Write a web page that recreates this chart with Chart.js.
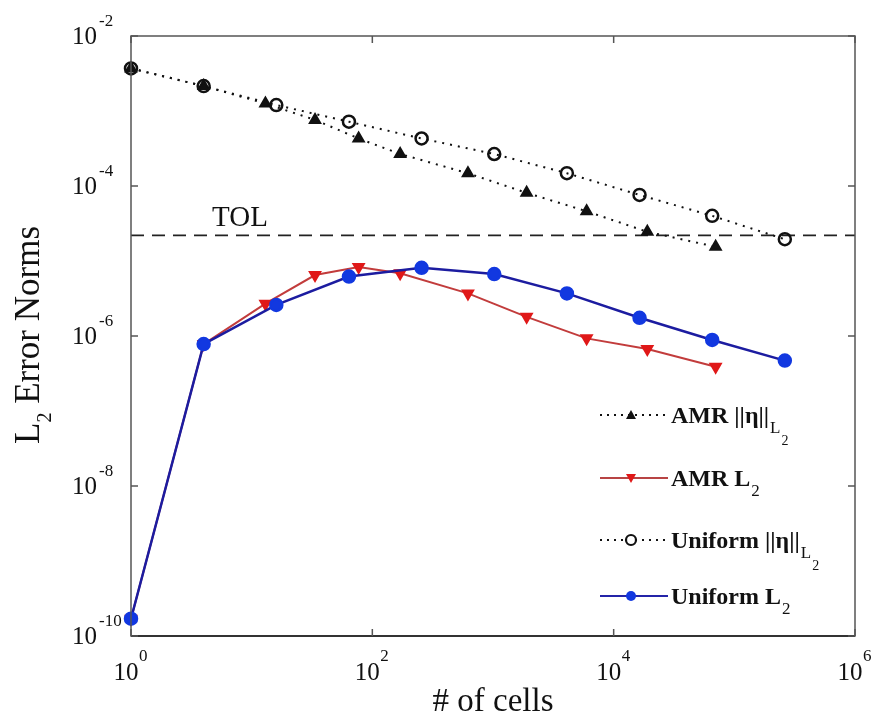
<!DOCTYPE html>
<html>
<head>
<meta charset="utf-8">
<script src="https://cdn.jsdelivr.net/npm/chart.js@4.4.1/dist/chart.umd.min.js"></script>
<style>
  html, body { margin: 0; padding: 0; background: #fff; }
  #wrap { width: 877px; height: 721px; }
</style>
</head>
<body>
<div id="wrap"><canvas id="chart" width="877" height="721"></canvas></div>
<script>
// number of cells per run
const uniformCells = [1, 4, 16, 64, 256, 1024, 4096, 16384, 65536, 262144];
const amrCells = [1, 4, 13, 33.5, 77, 170, 620, 1900, 5970, 19000, 70000];

// error norms
const amrEta = [3.7e-3, 2.15e-3, 1.26e-3, 7.6e-4, 4.3e-4, 2.67e-4, 1.48e-4, 8.1e-5, 4.6e-5, 2.45e-5, 1.55e-5];
const amrL2 = [1.7e-10, 7.8e-7, 2.7e-6, 6.5e-6, 8.3e-6, 6.85e-6, 3.7e-6, 1.8e-6, 9.3e-7, 6.7e-7, 3.9e-7];
const uniformEta = [3.7e-3, 2.15e-3, 1.2e-3, 7.2e-4, 4.3e-4, 2.67e-4, 1.48e-4, 7.6e-5, 4.0e-5, 1.95e-5];
const uniformL2 = [1.7e-10, 7.8e-7, 2.6e-6, 6.2e-6, 8.1e-6, 6.7e-6, 3.7e-6, 1.75e-6, 8.85e-7, 4.7e-7];

const tol = 2.2e-5;

// axis ticks (shown as 10^n)
const xTicks = [1, 1e2, 1e4, 1e6];
const yTicks = [1e-10, 1e-8, 1e-6, 1e-4, 1e-2];

const SERIF = '"Liberation Serif", "DejaVu Serif", serif';
const pts = (xs, ys) => xs.map((x, i) => ({ x, y: ys[i] }));

// box, inward ticks, 10^n labels, axis titles, TOL text
const axesPlugin = {
    id: 'axesPlugin',
    afterDatasetsDraw(chart) {
        const { ctx, chartArea: a, scales: { x, y } } = chart;
        ctx.save();
        ctx.strokeStyle = '#555';
        ctx.lineWidth = 1.5;
        ctx.strokeRect(a.left, a.top, a.right - a.left, a.bottom - a.top);
        // bottom axis is a bit darker in the original
        ctx.beginPath();
        ctx.strokeStyle = '#333';
        ctx.lineWidth = 2;
        ctx.moveTo(a.left, a.bottom); ctx.lineTo(a.right, a.bottom);
        ctx.stroke();

        ctx.strokeStyle = '#555';
        ctx.lineWidth = 1.5;
        ctx.beginPath();
        xTicks.forEach(v => {
            const px = x.getPixelForValue(v);
            ctx.moveTo(px, a.bottom); ctx.lineTo(px, a.bottom - 7);
            ctx.moveTo(px, a.top); ctx.lineTo(px, a.top + 7);
        });
        yTicks.forEach(v => {
            const py = y.getPixelForValue(v);
            ctx.moveTo(a.left, py); ctx.lineTo(a.left + 7, py);
            ctx.moveTo(a.right, py); ctx.lineTo(a.right - 7, py);
        });
        ctx.stroke();

        ctx.fillStyle = '#111';
        ctx.textBaseline = 'middle';
        // y tick labels
        yTicks.forEach(v => {
            const py = y.getPixelForValue(v);
            const e = Math.round(Math.log10(v));
            ctx.font = '25px ' + SERIF;
            ctx.textAlign = 'right';
            ctx.fillText('10', a.left - 34, py + 1);
            ctx.font = '17px ' + SERIF;
            ctx.textAlign = 'left';
            ctx.fillText(String(e), a.left - 32, py - 14);
        });
        // x tick labels
        xTicks.forEach(v => {
            const px = x.getPixelForValue(v);
            const e = Math.round(Math.log10(v));
            ctx.font = '25px ' + SERIF;
            ctx.textAlign = 'center';
            ctx.fillText('10', px - 5, a.bottom + 37);
            ctx.font = '17px ' + SERIF;
            ctx.textAlign = 'left';
            ctx.fillText(String(e), px + 8, a.bottom + 21);
        });

        // x title
        ctx.font = '33px ' + SERIF;
        ctx.textAlign = 'center';
        ctx.textBaseline = 'alphabetic';
        ctx.fillText('# of cells', (a.left + a.right) / 2, 711);

        // y title, rotated
        ctx.save();
        ctx.translate(39, 335);
        ctx.rotate(-Math.PI / 2);
        ctx.font = '35px ' + SERIF;
        const wL = ctx.measureText('L').width;
        const wRest = ctx.measureText(' Error Norms').width;
        ctx.font = '20px ' + SERIF;
        const w2 = ctx.measureText('2').width;
        const sx = -(wL + w2 + wRest) / 2;
        ctx.textAlign = 'left';
        ctx.font = '35px ' + SERIF;
        ctx.fillText('L', sx, 0);
        ctx.font = '20px ' + SERIF;
        ctx.fillText('2', sx + wL, 12);
        ctx.font = '35px ' + SERIF;
        ctx.fillText(' Error Norms', sx + wL + w2, 0);
        ctx.restore();

        // TOL label
        ctx.font = '29px ' + SERIF;
        ctx.textAlign = 'left';
        ctx.fillText('TOL', 212, y.getPixelForValue(tol) - 9);
        ctx.restore();
    }
};

// legend with sub/sub-sub scripts, drawn inside the axes
const legendPlugin = {
    id: 'legendPlugin',
    afterDatasetsDraw(chart) {
        const { ctx, chartArea: a } = chart;
        const x0 = a.right - 255, x1 = a.right - 187, xm = a.right - 224, tx = a.right - 184;
        const rows = [
            { y: a.bottom - 221, dash: [2, 5], line: '#111', marker: 'tri', color: '#111', main: 'AMR ||\u03b7||', sub: 'L', subsub: '2' },
            { y: a.bottom - 158, dash: [], line: '#b84444', marker: 'tridown', color: '#e01818', main: 'AMR L', sub: '2' },
            { y: a.bottom - 96, dash: [2, 5], line: '#111', marker: 'circ', color: '#111', main: 'Uniform ||\u03b7||', sub: 'L', subsub: '2' },
            { y: a.bottom - 40, dash: [], line: '#2424a8', marker: 'dot', color: '#1238e0', main: 'Uniform L', sub: '2' }
        ];
        ctx.save();
        rows.forEach(r => {
            ctx.beginPath();
            ctx.setLineDash(r.dash);
            ctx.strokeStyle = r.line;
            ctx.lineWidth = 2;
            ctx.moveTo(x0, r.y); ctx.lineTo(x1, r.y);
            ctx.stroke();
            ctx.setLineDash([]);
            ctx.fillStyle = r.color;
            ctx.strokeStyle = r.color;
            ctx.beginPath();
            if (r.marker === 'tri') {
                ctx.moveTo(xm, r.y - 5); ctx.lineTo(xm + 5, r.y + 4); ctx.lineTo(xm - 5, r.y + 4); ctx.closePath(); ctx.fill();
            } else if (r.marker === 'tridown') {
                ctx.moveTo(xm, r.y + 5); ctx.lineTo(xm + 5, r.y - 4); ctx.lineTo(xm - 5, r.y - 4); ctx.closePath(); ctx.fill();
            } else if (r.marker === 'circ') {
                ctx.fillStyle = '#fff'; ctx.lineWidth = 2.2;
                ctx.arc(xm, r.y, 5, 0, Math.PI * 2); ctx.fill(); ctx.stroke();
            } else {
                ctx.arc(xm, r.y, 5, 0, Math.PI * 2); ctx.fill();
            }
            ctx.fillStyle = '#111';
            ctx.textBaseline = 'alphabetic';
            ctx.textAlign = 'left';
            ctx.font = 'bold 24px ' + SERIF;
            ctx.fillText(r.main, tx, r.y + 8);
            const w = ctx.measureText(r.main).width;
            ctx.font = '17px ' + SERIF;
            ctx.fillText(r.sub, tx + w + 1, r.y + 18);
            if (r.subsub) {
                const ws = ctx.measureText(r.sub).width;
                ctx.font = '14px ' + SERIF;
                ctx.fillText(r.subsub, tx + w + ws + 2, r.y + 30);
            }
        });
        ctx.restore();
    }
};

new Chart(document.getElementById('chart'), {
    type: 'line',
    data: {
        datasets: [
            {
                label: 'Uniform L2',
                data: pts(uniformCells, uniformL2),
                borderColor: '#1c1ca0',
                borderWidth: 2.5,
                pointStyle: 'circle',
                pointRadius: 6,
                pointBackgroundColor: '#1238e0',
                pointBorderColor: '#1238e0',
                order: 0,
                clip: false
            },
            {
                label: 'AMR L2',
                data: pts(amrCells, amrL2),
                borderColor: '#c23c3c',
                borderWidth: 2,
                pointStyle: 'triangle',
                pointRotation: 180,
                pointRadius: 6,
                pointBackgroundColor: '#e01818',
                pointBorderColor: '#e01818',
                order: 1,
                clip: false
            },
            {
                label: 'Uniform eta',
                data: pts(uniformCells, uniformEta),
                borderColor: '#111',
                borderWidth: 2,
                borderDash: [2, 6],
                pointStyle: 'circle',
                pointRadius: 6,
                pointBorderWidth: 2.5,
                pointBackgroundColor: 'rgba(255,255,255,0)',
                pointBorderColor: '#111',
                order: 2,
                clip: false
            },
            {
                label: 'AMR eta',
                data: pts(amrCells, amrEta),
                borderColor: '#111',
                borderWidth: 2,
                borderDash: [2, 6],
                pointStyle: 'triangle',
                pointRadius: 6,
                pointBackgroundColor: '#111',
                pointBorderColor: '#111',
                order: 3,
                clip: false
            },
            {
                label: 'TOL',
                data: [{ x: 1, y: tol }, { x: 1e6, y: tol }],
                borderColor: '#222',
                borderWidth: 1.8,
                borderDash: [13, 8],
                pointRadius: 0,
                order: 4
            }
        ]
    },
    options: {
        responsive: false,
        animation: false,
        layout: { padding: { left: 131, right: 22, top: 36, bottom: 85 } },
        elements: { line: { tension: 0 } },
        scales: {
            x: { type: 'logarithmic', min: 1, max: 1e6, display: false },
            y: { type: 'logarithmic', min: 1e-10, max: 1e-2, display: false }
        },
        plugins: {
            legend: { display: false },
            tooltip: { enabled: false }
        }
    },
    plugins: [axesPlugin, legendPlugin]
});
</script>
</body>
</html>
